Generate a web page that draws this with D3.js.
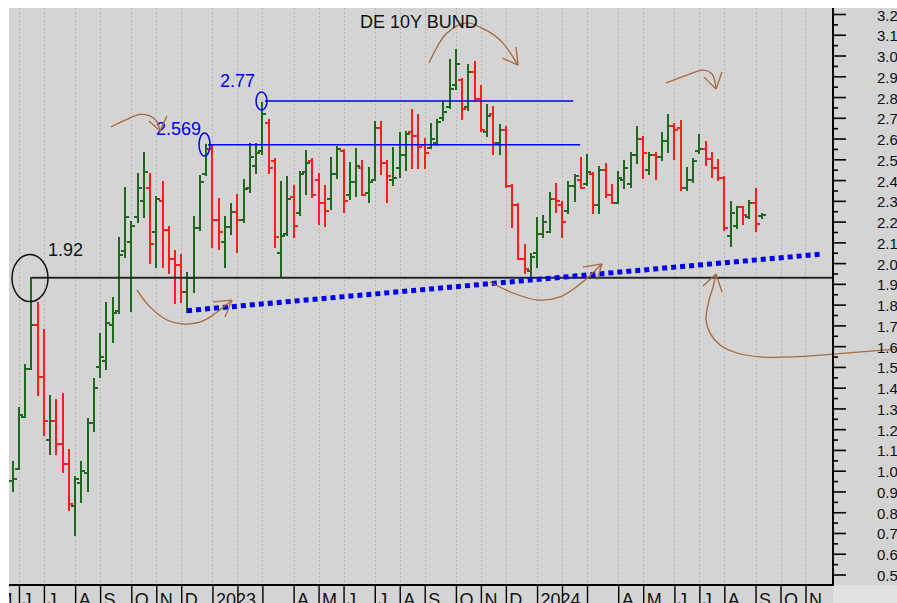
<!DOCTYPE html>
<html><head><meta charset="utf-8">
<script src="https://cdn.jsdelivr.net/npm/d3@7/dist/d3.min.js"></script>
<style>
body{margin:0;background:#fff;}
svg{display:block;font-family:"Liberation Sans",Arial,sans-serif;}
</style>
</head><body>
<svg id="chart" width="897" height="603"></svg>
<script>
// ---------- DATA ----------
const title = "DE 10Y BUND";
const firstWeek = "2022-05-27";   // weekly bars (Fridays)
const openV  = [0.95,1.01,1.26,1.49,1.70,1.45,1.15,1.24,1.13,1.03,0.83,0.94,0.99,1.23,1.50,1.53,1.70,1.77,2.06,2.10,2.22,2.30,2.36,2.15,2.30,2.16,2.02,1.99,1.86,1.93,2.17,2.43,2.55,2.21,2.10,2.175,2.246,2.21,2.36,2.47,2.54,2.676,2.49,2.05,2.14,2.317,2.24,2.44,2.49,2.40,2.29,2.31,2.43,2.54,2.33,2.39,2.46,2.34,2.40,2.65,2.48,2.40,2.46,2.52,2.63,2.61,2.57,2.555,2.58,2.70,2.75,2.86,2.88,2.75,2.92,2.79,2.63,2.72,2.58,2.64,2.37,2.28,2.02,1.96,2.05,2.14,2.15,2.31,2.28,2.25,2.37,2.40,2.38,2.43,2.28,2.45,2.33,2.29,2.40,2.38,2.52,2.60,2.45,2.52,2.51,2.59,2.66,2.65,2.36,2.40,2.54,2.55,2.50,2.46,2.41,2.13,2.18,2.27,2.22,2.29,2.225];
const highV  = [1.04,1.30,1.51,1.93,1.81,1.68,1.36,1.34,1.37,1.10,0.97,1.04,1.25,1.44,1.66,1.81,1.83,2.12,2.36,2.20,2.43,2.53,2.43,2.32,2.39,2.175,2.06,2.04,1.95,2.22,2.42,2.569,2.567,2.31,2.22,2.285,2.328,2.40,2.574,2.574,2.77,2.69,2.50,2.39,2.416,2.37,2.437,2.541,2.50,2.43,2.37,2.505,2.56,2.545,2.48,2.548,2.49,2.457,2.68,2.68,2.49,2.553,2.625,2.633,2.737,2.713,2.60,2.67,2.69,2.777,2.98,3.027,2.885,2.954,2.97,2.853,2.76,2.75,2.665,2.654,2.376,2.285,2.087,2.044,2.216,2.227,2.336,2.38,2.296,2.392,2.424,2.505,2.52,2.433,2.464,2.477,2.376,2.44,2.49,2.53,2.654,2.606,2.53,2.53,2.625,2.713,2.67,2.686,2.457,2.50,2.617,2.585,2.53,2.497,2.413,2.296,2.27,2.27,2.30,2.355,2.237];
const lowV   = [0.90,1.01,1.26,1.49,1.365,1.17,1.08,1.08,0.995,0.81,0.69,0.85,0.90,1.19,1.45,1.49,1.62,1.76,2.03,1.77,2.20,2.22,2.00,1.98,1.98,1.95,1.81,1.814,1.766,1.86,2.16,2.425,2.076,2.07,1.98,2.14,2.055,2.20,2.344,2.435,2.525,2.435,2.076,1.934,2.135,2.127,2.232,2.335,2.32,2.19,2.18,2.26,2.41,2.248,2.31,2.325,2.328,2.296,2.40,2.43,2.296,2.376,2.415,2.448,2.457,2.457,2.457,2.553,2.57,2.69,2.745,2.837,2.694,2.737,2.782,2.636,2.612,2.525,2.525,2.368,2.172,2.018,1.954,1.927,1.983,2.127,2.15,2.248,2.127,2.243,2.30,2.36,2.376,2.24,2.24,2.32,2.288,2.29,2.36,2.368,2.48,2.41,2.43,2.404,2.497,2.537,2.50,2.352,2.352,2.392,2.53,2.472,2.416,2.40,2.16,2.082,2.167,2.19,2.216,2.156,2.217];
const closeV = [0.96,1.27,1.49,1.70,1.45,1.24,1.24,1.13,1.03,0.84,0.96,1.00,1.23,1.40,1.55,1.71,1.76,2.04,2.22,2.18,2.36,2.44,2.09,2.31,2.16,2.02,1.99,1.86,1.93,2.17,2.39,2.55,2.21,2.15,2.175,2.246,2.21,2.356,2.51,2.53,2.72,2.46,2.124,2.13,2.31,2.18,2.43,2.48,2.33,2.29,2.25,2.43,2.55,2.30,2.39,2.47,2.33,2.39,2.65,2.48,2.42,2.41,2.52,2.62,2.61,2.56,2.53,2.60,2.68,2.73,2.84,2.96,2.74,2.92,2.79,2.64,2.71,2.58,2.64,2.37,2.28,2.02,1.97,2.03,2.14,2.20,2.31,2.30,2.20,2.37,2.42,2.36,2.44,2.28,2.45,2.33,2.29,2.41,2.46,2.52,2.60,2.53,2.52,2.51,2.59,2.66,2.64,2.36,2.40,2.49,2.55,2.50,2.46,2.41,2.17,2.24,2.27,2.23,2.29,2.19,2.23];

// month separators (first weekly bar of each month) and their labels
const monthTickDates = ["2022-05-06","2022-06-03","2022-07-01","2022-08-05","2022-09-02","2022-10-07","2022-11-04","2022-12-02","2023-01-06","2023-02-03","2023-03-03","2023-04-07","2023-05-05","2023-06-02","2023-07-07","2023-08-04","2023-09-01","2023-10-06","2023-11-03","2023-12-01","2024-01-05","2024-02-02","2024-03-01","2024-04-05","2024-05-03","2024-06-07","2024-07-05","2024-08-02","2024-09-06","2024-10-04","2024-11-01"];
const monthTickLabels = ["M","J","J","A","S","O","N","D","2023","","","A","M","J","J","A","S","O","N","D","2024","","","A","M","J","J","A","S","O","N"];

// y axis ticks
const yMajorTicks = d3.range(5, 33).map(v => v / 10);
const yMinorTicks = d3.range(5, 32).map(v => v / 10 + 0.05);

// annotations (x in weeks from firstWeek, y in yield %)
const levelLine = {value: 1.93, from: 3, label: "1.92", labelAt: [5.65, 2.034], ring: [2.77, 1.928]};
const resistance = [
  {value: 2.570, from: 31.3, to: 90.9, label: "2.569", labelAt: [22.96, 2.617], ring: [30.73, 2.571], ry: 11.5},
  {value: 2.781, from: 40.4, to: 89.8, label: "2.77",  labelAt: [33.2, 2.848],  ring: [39.86, 2.781], ry: 9}
];
const trendLine = [[27.93, 1.771], [129.8, 2.044]];
const arrowCurves = [
  [[15.75,2.656],[17.99,2.689],[20.39,2.716],[21.99,2.709],[23.12,2.68],[23.60,2.637]],
  [[66.69,2.964],[69.57,3.108],[72.78,3.157],[74.86,3.137],[78.07,3.075],[80.95,2.954]],
  [[104.66,2.868],[108.02,2.906],[110.58,2.930],[112.02,2.911],[112.67,2.839]],
  [[19.91,1.870],[21.99,1.789],[24.72,1.726],[27.12,1.707],[30.49,1.722],[35.13,1.822]],
  [[76.46,1.909],[80.15,1.856],[84.15,1.822],[87.68,1.837],[90.88,1.899],[94.41,1.996]],
  [[112.67,1.9475],[112.19,1.885],[111.55,1.822],[111.07,1.726],[111.71,1.663],[113.31,1.6055],[116.03,1.567],[119.72,1.548],[125.0,1.548],[131.41,1.562],[141.66,1.586]]
];
const arrowHeads = [
  {tip:[23.60,2.637], wings:[[21.83,2.685],[24.72,2.709]]},
  {tip:[80.95,2.954], wings:[[80.63,3.041],[78.39,2.988]]},
  {tip:[112.67,2.839], wings:[[113.63,2.921],[110.74,2.896]]},
  {tip:[35.13,1.822], wings:[[32.09,1.813],[34.01,1.740]]},
  {tip:[94.41,1.996], wings:[[91.36,1.981],[93.6,1.919]]},
  {tip:[112.67,1.9475], wings:[[110.58,1.890],[113.63,1.861]]}
];

// ---------- LAYOUT ----------
const W = 897, H = 603;
const L = 9, R = 833, T = 8, B = 585;
const GREEN = "#1d6a1d", RED = "#ff1c1c", BLUE = "#0000f0", BROWN = "#a8693c";
const BG = "#d4d4d4";

const parse = d3.utcParse("%Y-%m-%d");
const t0 = parse(firstWeek);
const WEEK = 7 * 864e5;
const dateOf = w => new Date(t0.getTime() + w * WEEK);

const x = d3.scaleUtc().domain([dateOf(-0.593), dateOf(131.407)]).range([L, R]);
const xw = w => x(dateOf(w));
const y = d3.scaleLinear().domain([0.5, 3.2]).range([574.5, 14]);

const svg = d3.select("#chart");
svg.append("rect").attr("x", 0).attr("y", 0).attr("width", W).attr("height", H).attr("fill", "#fff");
svg.append("rect").attr("x", L).attr("y", T).attr("width", W - L).attr("height", H - T).attr("fill", BG);
svg.append("rect").attr("x", R).attr("y", B).attr("width", W - R).attr("height", H - B).attr("fill", "#e2e2e2");

const defs = svg.append("defs");
defs.append("clipPath").attr("id", "plotclip").append("rect")
  .attr("x", L).attr("y", T).attr("width", R - L).attr("height", B - T);
defs.append("clipPath").attr("id", "axisclip").append("rect")
  .attr("x", L).attr("y", B).attr("width", R - L).attr("height", H - B);

const tickDates = monthTickDates.map(parse);

// vertical dotted grid
const plot = svg.append("g").attr("clip-path", "url(#plotclip)");
plot.append("g").selectAll("line").data(tickDates).join("line")
  .attr("x1", d => Math.round(x(d)) + 0.5).attr("x2", d => Math.round(x(d)) + 0.5)
  .attr("y1", T).attr("y2", B)
  .attr("stroke", "#b9b9b9").attr("stroke-width", 1).attr("stroke-dasharray", "2,2");

// OHLC bars
const bars = openV.map((o, i) => ({date: dateOf(i), o, h: highV[i], l: lowV[i], c: closeV[i]}));
const bg = plot.append("g").attr("shape-rendering", "crispEdges");
const bar = bg.selectAll("g").data(bars).join("g")
  .attr("stroke", d => d.c >= d.o ? GREEN : RED).attr("stroke-width", 2);
bar.append("line").attr("x1", d => Math.round(x(d.date))).attr("x2", d => Math.round(x(d.date)))
  .attr("y1", d => y(d.h) - 1).attr("y2", d => y(d.l) + 1);
bar.append("line").attr("x1", d => Math.round(x(d.date)) - 4).attr("x2", d => Math.round(x(d.date)))
  .attr("y1", d => y(d.o)).attr("y2", d => y(d.o));
bar.append("line").attr("x1", d => Math.round(x(d.date))).attr("x2", d => Math.round(x(d.date)) + 4)
  .attr("y1", d => y(d.c)).attr("y2", d => y(d.c));

// level line 1.92
svg.append("line").attr("x1", xw(levelLine.from)).attr("x2", R)
  .attr("y1", y(levelLine.value)).attr("y2", y(levelLine.value))
  .attr("stroke", "#262626").attr("stroke-width", 2);
svg.append("ellipse").attr("cx", xw(levelLine.ring[0])).attr("cy", y(levelLine.ring[1]))
  .attr("rx", 18).attr("ry", 23.5).attr("fill", "none").attr("stroke", "#111").attr("stroke-width", 1.5);
svg.append("text").attr("x", xw(levelLine.labelAt[0])).attr("y", y(levelLine.labelAt[1]))
  .attr("font-size", 18).attr("fill", "#111").text(levelLine.label);

// resistance lines
resistance.forEach(r => {
  svg.append("line").attr("x1", xw(r.from)).attr("x2", xw(r.to))
    .attr("y1", y(r.value)).attr("y2", y(r.value))
    .attr("stroke", BLUE).attr("stroke-width", 1.6);
  svg.append("ellipse").attr("cx", xw(r.ring[0])).attr("cy", y(r.ring[1]))
    .attr("rx", 5.5).attr("ry", r.ry).attr("fill", "none").attr("stroke", BLUE).attr("stroke-width", 1.5);
  svg.append("text").attr("x", xw(r.labelAt[0])).attr("y", y(r.labelAt[1]))
    .attr("font-size", 18).attr("fill", BLUE).text(r.label);
});

// dotted trend line
svg.append("line").attr("x1", xw(trendLine[0][0])).attr("y1", y(trendLine[0][1]))
  .attr("x2", xw(trendLine[1][0])).attr("y2", y(trendLine[1][1]))
  .attr("stroke", BLUE).attr("stroke-width", 5).attr("stroke-dasharray", "5,4");

// hand-drawn arrows
const curve = d3.line().x(p => xw(p[0])).y(p => y(p[1])).curve(d3.curveCatmullRom.alpha(0.5));
svg.append("g").selectAll("path").data(arrowCurves).join("path")
  .attr("d", curve).attr("fill", "none").attr("stroke", BROWN).attr("stroke-width", 1.3);
const heads = svg.append("g");
arrowHeads.forEach(a => a.wings.forEach(w => {
  heads.append("line").attr("x1", xw(w[0])).attr("y1", y(w[1]))
    .attr("x2", xw(a.tip[0])).attr("y2", y(a.tip[1]))
    .attr("stroke", BROWN).attr("stroke-width", 1.3);
}));

// title
svg.append("text").attr("x", 360).attr("y", 28).attr("font-size", 18).attr("fill", "#111").text(title);

// right y axis
const yAxisG = svg.append("g").attr("transform", `translate(${R},0)`);
yAxisG.call(d3.axisRight(y).tickValues(yMajorTicks).tickSize(13).tickSizeOuter(0).tickPadding(31).tickFormat(d3.format(".1f")))
  .call(g => g.select(".domain").remove())
  .call(g => g.selectAll("line").attr("stroke", "#000").attr("stroke-width", 1.6))
  .call(g => g.selectAll("text").attr("font-size", 15).attr("fill", "#111").attr("font-family", "Liberation Sans, Arial, sans-serif").attr("dy", "0.4em"));
svg.append("g").attr("transform", `translate(${R},0)`)
  .call(d3.axisRight(y).tickValues(yMinorTicks).tickSize(5).tickSizeOuter(0).tickFormat(""))
  .call(g => g.select(".domain").remove())
  .call(g => g.selectAll("line").attr("stroke", "#000").attr("stroke-width", 1.6));
svg.append("line").attr("x1", R).attr("x2", R).attr("y1", T).attr("y2", B + 1)
  .attr("stroke", "#000").attr("stroke-width", 2);

// bottom month axis
const xAxisG = svg.append("g").attr("clip-path", "url(#axisclip)")
  .append("g").attr("transform", `translate(0,${B})`);
xAxisG.call(d3.axisBottom(x).tickValues(tickDates).tickSize(18).tickSizeOuter(0).tickFormat((d, i) => monthTickLabels[i]))
  .call(g => g.select(".domain").remove())
  .call(g => g.selectAll("line").attr("stroke", "#000").attr("stroke-width", 1.4))
  .call(g => g.selectAll("text").attr("text-anchor", "start").attr("x", 3).attr("y", 21).attr("dy", 0)
     .attr("font-size", 18).attr("fill", "#111").attr("font-family", "Liberation Sans, Arial, sans-serif"));
svg.append("line").attr("x1", L).attr("x2", R + 1).attr("y1", B).attr("y2", B)
  .attr("stroke", "#000").attr("stroke-width", 2);
</script>
</body></html>
